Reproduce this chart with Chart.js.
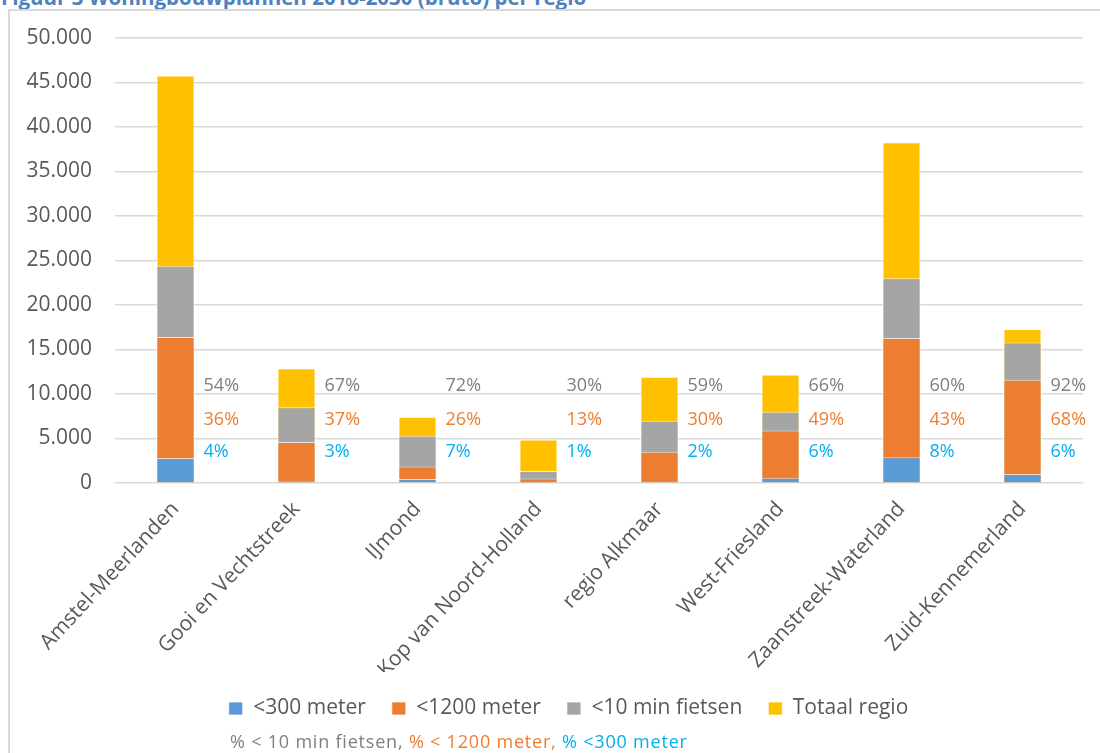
<!DOCTYPE html>
<html>
<head>
<meta charset="utf-8">
<script src="https://cdn.jsdelivr.net/npm/chart.js@4"></script>
<style>
  html, body { margin: 0; padding: 0; background: #fff; overflow: hidden; }
  #page { position: relative; width: 1100px; height: 753px; overflow: hidden; }
  #title {
    position: absolute; left: 1px; top: -12.7px; white-space: nowrap;
    font: bold 20.5px/20.5px "Open Sans", sans-serif; color: #4f81bd;
  }
  #frame {
    position: absolute; left: 8px; top: 9px; width: 1200px; height: 800px;
    border-left: 2px solid #d9d9d9; border-top: 2px solid #d9d9d9;
  }
  #wrap { position: absolute; left: 0; top: 0; width: 1100px; height: 753px; }
</style>
</head>
<body>
<div id="page">
  <div id="title">Figuur 3 Woningbouwplannen 2018-2030 (bruto) per regio</div>
  <div id="frame"></div>
  <div id="wrap"><canvas id="regioChart"></canvas></div>
</div>
<script>
    const regios = ["Amstel-Meerlanden", "Gooi en Vechtstreek", "IJmond", "Kop van Noord-Holland",
      "regio Alkmaar", "West-Friesland", "Zaanstreek-Waterland", "Zuid-Kennemerland"];

    // woningen (bruto), elke reeks valt binnen de volgende
    const binnen300 = [2800, 250, 450, 50, 150, 600, 2900, 1000];
    const binnen1200 = [16400, 4600, 1850, 500, 3500, 5900, 16300, 11600];
    const binnen10min = [24400, 8500, 5300, 1350, 7000, 8000, 23000, 15800];
    const totaalRegio = [45800, 12900, 7450, 4900, 11950, 12200, 38300, 17300];

    // percentages naast de staven
    const pct10min = [54, 67, 72, 30, 59, 66, 60, 92];
    const pct1200 = [36, 37, 26, 13, 30, 49, 43, 68];
    const pct300 = [4, 3, 7, 1, 2, 6, 8, 6];

    const yTicks = [0, 5000, 10000, 15000, 20000, 25000, 30000, 35000, 40000, 45000, 50000];

    const nl = new Intl.NumberFormat("nl-NL");
    const FONT = "'Open Sans', sans-serif";

    const pctRows = [
      { values: pct10min, at: 10900, color: "#7f7f7f" },
      { values: pct1200, at: 7100, color: "#ed7d31" },
      { values: pct300, at: 3500, color: "#00b0f0" }
    ];

    const pctLabels = {
      id: "pctLabels",
      afterDatasetsDraw(chart) {
        const ctx = chart.ctx;
        const y = chart.scales.y;
        const meta = chart.getDatasetMeta(3);
        ctx.save();
        ctx.font = "18px " + FONT;
        ctx.textBaseline = "middle";
        ctx.textAlign = "left";
        meta.data.forEach(function(bar, i) {
          const left = bar.x + bar.width / 2 + 9;
          pctRows.forEach(function(row) {
            ctx.fillStyle = row.color;
            ctx.fillText(row.values[i] + "%", left, y.getPixelForValue(row.at));
          });
        });
        ctx.restore();
      }
    };

    // legenda iets naar rechts, zoals in het origineel
    const legendShift = {
      id: "legendShift",
      afterLayout(chart) {
        chart.legend.left += 17;
        chart.legend.right += 17;
      }
    };

    const footnote = {
      id: "footnote",
      afterDraw(chart) {
        const ctx = chart.ctx;
        const parts = [
          ["% < 10 min fietsen, ", "#7f7f7f"],
          ["% < 1200 meter, ", "#ed7d31"],
          ["% <300 meter", "#00b0f0"]
        ];
        ctx.save();
        ctx.font = "18px " + FONT;
        ctx.letterSpacing = "0.8px";
        ctx.textBaseline = "middle";
        ctx.textAlign = "left";
        let x = 230;
        parts.forEach(function(p) {
          ctx.fillStyle = p[1];
          ctx.fillText(p[0], x, 743);
          x += ctx.measureText(p[0]).width;
        });
        ctx.restore();
      }
    };

    function bar(label, data, color) {
      return {
        label: label,
        data: data,
        backgroundColor: color,
        borderColor: "rgba(255,255,255,0.7)",
        borderWidth: 1,
        grouped: false,
        categoryPercentage: 1,
        barPercentage: 0.315
      };
    }

    function drawChart() {
      const ctx = document.getElementById("regioChart").getContext("2d");
      new Chart(ctx, {
        type: "bar",
        data: {
          labels: regios,
          datasets: [
            bar("<300 meter", binnen300, "#5b9bd5"),
            bar("<1200 meter", binnen1200, "#ed7d31"),
            bar("<10 min fietsen", binnen10min, "#a5a5a5"),
            bar("Totaal regio", totaalRegio, "#ffc000")
          ]
        },
        options: {
          responsive: true,
          maintainAspectRatio: false,
          animation: false,
          devicePixelRatio: 1,
          layout: {
            autoPadding: false,
            padding: { left: 20, right: 17, top: 38, bottom: 24 }
          },
          plugins: {
            tooltip: { enabled: false },
            legend: {
              position: "bottom",
              labels: {
                boxWidth: 14,
                boxHeight: 13,
                padding: 26,
                color: "#595959",
                font: { family: FONT, size: 21 }
              }
            }
          },
          scales: {
            x: {
              grid: { display: false },
              border: { display: false },
              ticks: {
                color: "#595959",
                font: { family: FONT, size: 21 },
                minRotation: 47,
                maxRotation: 47,
                padding: 6,
                autoSkip: false
              },
              afterFit: function(scale) { scale.height = 189; }
            },
            y: {
              min: 0,
              max: 50000,
              afterBuildTicks: function(scale) {
                scale.ticks = yTicks.map(function(v) { return { value: v }; });
              },
              grid: { color: "#d9d9d9", lineWidth: 1.5, drawTicks: false },
              border: { display: false },
              ticks: {
                color: "#595959",
                font: { family: FONT, size: 21 },
                padding: 23,
                callback: function(value) { return nl.format(value); }
              },
              afterFit: function(scale) { scale.width = 95; }
            }
          }
        },
        plugins: [pctLabels, legendShift, footnote]
      });
    }

    Promise.all([
      document.fonts.load("18px 'Open Sans'"),
      document.fonts.load("bold 18px 'Open Sans'")
    ]).then(drawChart, drawChart);
</script>
</body>
</html>
